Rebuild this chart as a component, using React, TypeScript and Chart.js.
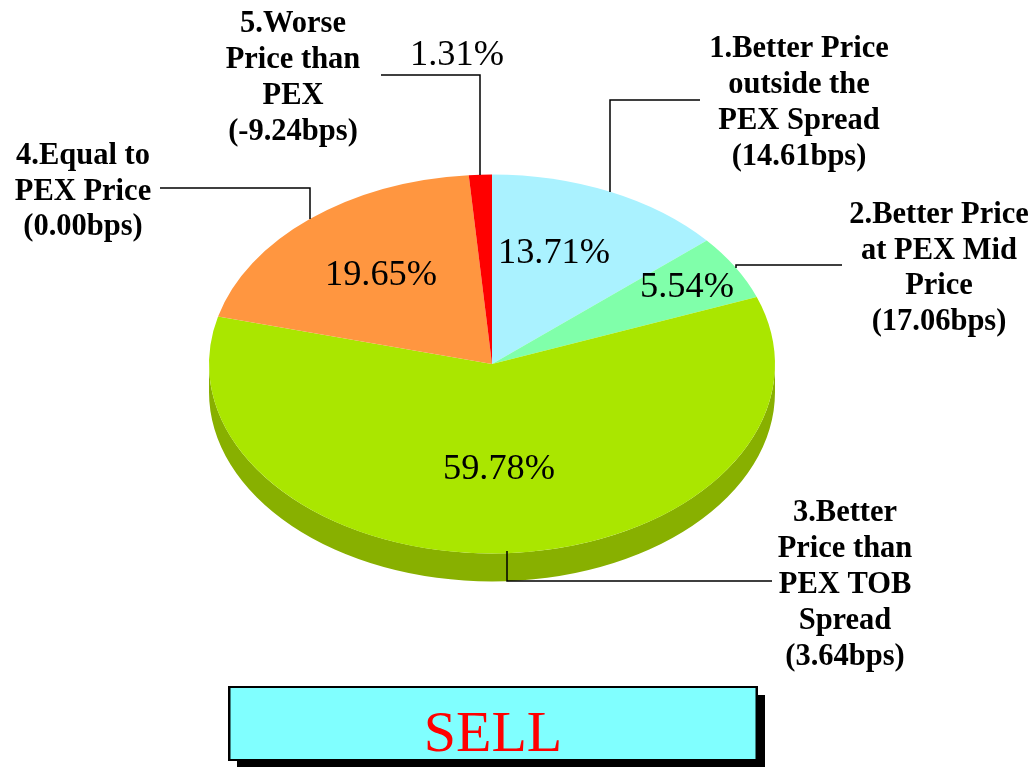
import React, { useEffect, useRef } from "react";
import { Chart, registerables } from "chart.js";

Chart.register(...registerables);

const categories = [
  "1.Better Price outside the PEX Spread (14.61bps)",
  "2.Better Price at PEX Mid Price (17.06bps)",
  "3.Better Price than PEX TOB Spread (3.64bps)",
  "4.Equal to PEX Price (0.00bps)",
  "5.Worse Price than PEX (-9.24bps)",
];
const shares = [13.71, 5.54, 59.78, 19.65, 1.31];
const shareLabels = ["13.71%", "5.54%", "59.78%", "19.65%", "1.31%"];
const topColours = ["#AAF2FF", "#80FFAA", "#AAE600", "#FF9640", "#FF0000"];
const sideColours = ["#88C2CC", "#66CC88", "#88B000", "#CC7833", "#CC0000"];
const boxTitle = "SELL";

const squash = 189.5 / 283;
const depth = 28;
const serif = '"Liberation Serif", "Times New Roman", serif';

const nameBlocks = [
  { lines: ["1.Better Price", "outside the", "PEX Spread", "(14.61bps)"], x: 799, y: 57, step: 36 },
  { lines: ["2.Better Price", "at PEX Mid", "Price", "(17.06bps)"], x: 939, y: 223, step: 35.6 },
  { lines: ["3.Better", "Price than", "PEX TOB", "Spread", "(3.64bps)"], x: 845, y: 521, step: 36 },
  { lines: ["4.Equal to", "PEX Price", "(0.00bps)"], x: 83, y: 164, step: 35.5 },
  { lines: ["5.Worse", "Price than", "PEX", "(-9.24bps)"], x: 293, y: 32, step: 36 },
];
const shareSpots = [
  [554, 263],
  [687, 297],
  [499, 479],
  [381, 285],
  [457, 65],
];
const leaders = [
  [[700, 100], [610, 100], [610, 192]],
  [[842, 265], [736, 265], [736, 268]],
  [[772, 581], [507, 581], [507, 551]],
  [[160, 188], [310, 188], [310, 219]],
  [[381, 75], [480, 75], [480, 175]],
];

const piePlugin = {
  id: "flatPie",
  beforeDatasetsDraw(chart: any) {
    const ctx = chart.ctx;
    const arcs = chart.getDatasetMeta(0).data;
    const cx = arcs[0].x;
    const cy = arcs[0].y;
    const r = arcs[0].outerRadius;
    arcs.forEach((a: any, i: number) => {
      const s = Math.max(a.startAngle, 0);
      const e = Math.min(a.endAngle, Math.PI);
      if (e <= s) return;
      ctx.beginPath();
      ctx.ellipse(cx, cy, r, r * squash, 0, s, e);
      ctx.ellipse(cx, cy + depth, r, r * squash, 0, e, s, true);
      ctx.closePath();
      ctx.fillStyle = sideColours[i];
      ctx.fill();
    });
    ctx.save();
    ctx.translate(cx, cy);
    ctx.scale(1, squash);
    ctx.translate(-cx, -cy);
  },
  afterDatasetsDraw(chart: any) {
    const ctx = chart.ctx;
    ctx.restore();
    ctx.textBaseline = "alphabetic";
    ctx.textAlign = "center";

    ctx.strokeStyle = "#000000";
    ctx.lineWidth = 1.5;
    leaders.forEach((pts) => {
      ctx.beginPath();
      pts.forEach(([x, y], i) => (i ? ctx.lineTo(x, y) : ctx.moveTo(x, y)));
      ctx.stroke();
    });

    ctx.fillStyle = "#000000";
    ctx.font = `bold 30.5px ${serif}`;
    nameBlocks.forEach((b) => {
      b.lines.forEach((t, i) => ctx.fillText(t, b.x, b.y + i * b.step));
    });
    ctx.font = `36.3px ${serif}`;
    shareLabels.forEach((t, i) => ctx.fillText(t, shareSpots[i][0], shareSpots[i][1]));

    ctx.fillStyle = "#000000";
    ctx.fillRect(237, 695, 528, 72);
    ctx.fillRect(228, 686, 530, 75);
    ctx.fillStyle = "#80FFFF";
    ctx.fillRect(230.5, 688, 525, 71);
    ctx.fillStyle = "#FF0000";
    ctx.font = `58px ${serif}`;
    ctx.fillText(boxTitle, 493, 751);
  },
};

export default function App() {
  const ref = useRef<HTMLCanvasElement>(null);
  useEffect(() => {
    const chart = new Chart(ref.current!, {
      type: "pie",
      data: {
        labels: categories,
        datasets: [{ data: shares, backgroundColor: topColours, borderWidth: 0 }],
      },
      options: {
        animation: false,
        responsive: false,
        layout: { padding: { left: 209, right: 258, top: 81, bottom: 120 } },
        plugins: { legend: { display: false }, tooltip: { enabled: false } },
      },
      plugins: [piePlugin],
    });
    return () => chart.destroy();
  }, []);
  return (
    <div style={{ position: "fixed", left: 0, top: 0, width: 1033, height: 767, overflow: "hidden", background: "#fff" }}>
      <canvas ref={ref} width={1033} height={767} style={{ display: "block" }} />
    </div>
  );
}
